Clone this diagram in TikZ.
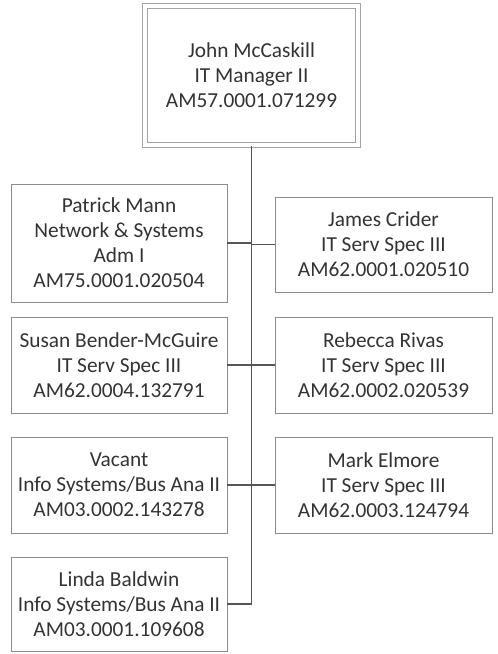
\documentclass[tikz,border=0pt]{standalone}
\usepackage{fontspec}
\setmainfont{Carlito}
\definecolor{txt}{HTML}{333333}
\definecolor{boxline}{HTML}{8C8C8C}
\definecolor{conn}{HTML}{555555}
\begin{document}
\begin{tikzpicture}[x=0.75pt,y=-0.75pt,
  emp/.style={draw=boxline, line width=0.7pt, align=center, text=txt,
    font=\fontsize{16}{18.75}\selectfont, inner sep=0pt},
  leftbox/.style={emp, minimum width=162pt},
  rightbox/.style={emp, minimum width=162.75pt},
  topbox/.style={emp, double=white, double distance=3.2pt, line width=0.6pt, draw=boxline!80,
    minimum width=160pt, minimum height=104.5pt},
  link/.style={draw=conn, line width=1.1pt}]
\useasboundingbox (0,0) rectangle (497,654);
\fill[white] (0,0) rectangle (497,654);

\node[topbox] (top) at (251.5,75.5) {John McCaskill\\IT Manager II\\AM57.0001.071299};

\node[leftbox, minimum height=88.5pt] (patrick) at (119,243) {Patrick Mann\\Network \& Systems\\Adm I\\AM75.0001.020504};
\node[rightbox, minimum height=71.25pt] (james) at (383.5,244.5) {James Crider\\IT Serv Spec III\\AM62.0001.020510};
\node[leftbox, minimum height=72pt] (susan) at (119,365) {Susan Bender-McGuire\\IT Serv Spec III\\AM62.0004.132791};
\node[rightbox, minimum height=72pt] (rebecca) at (383.5,365) {Rebecca Rivas\\IT Serv Spec III\\AM62.0002.020539};
\node[leftbox, minimum height=72pt] (vacant) at (119,485) {Vacant\\Info Systems/Bus Ana II\\AM03.0002.143278};
\node[rightbox, minimum height=72pt] (mark) at (383.5,485) {Mark Elmore\\IT Serv Spec III\\AM62.0003.124794};
\node[leftbox, minimum height=70.5pt] (linda) at (119,604) {Linda Baldwin\\Info Systems/Bus Ana II\\AM03.0001.109608};

\draw[link] (top.south) |- (linda.east);
\foreach \n in {patrick,james,susan,rebecca,vacant,mark}
  \draw[link] (\n) -- (\n -| top.south);
\end{tikzpicture}
\end{document}
